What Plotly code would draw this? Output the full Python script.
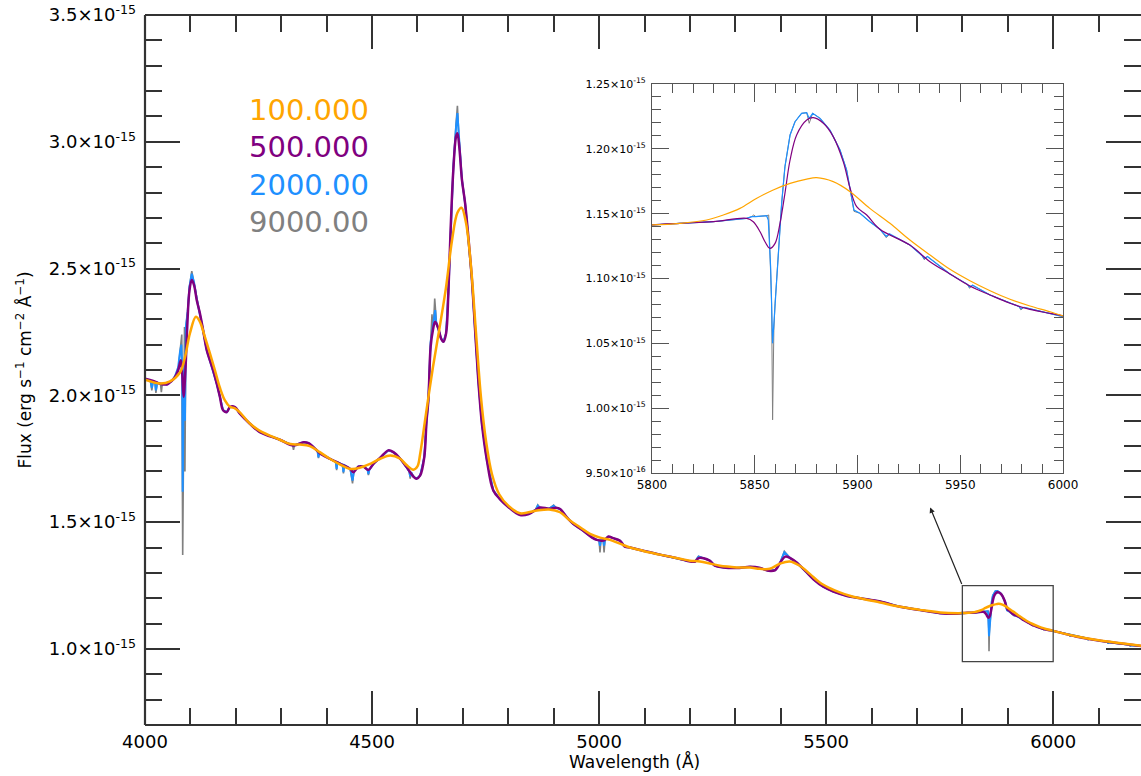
import plotly.graph_objects as go

# ---------------- data (flux in units of 1e-15 erg s^-1 cm^-2 A^-1) ----------------
r100_wave = [4000, 4033, 4055, 4077, 4088, 4099, 4112, 4121, 4132, 4143, 4154, 4165, 4176, 4187,
             4198, 4209, 4231, 4253, 4297, 4320, 4341, 4363, 4385, 4407, 4430, 4452, 4474, 4496,
             4518, 4540, 4562, 4576, 4591, 4600, 4606, 4619, 4634, 4649, 4663, 4676, 4688, 4697,
             4707, 4718, 4729, 4740, 4751, 4764, 4780, 4800, 4826, 4860, 4890, 4914, 4936, 4958,
             4980, 5002, 5024, 5046, 5068, 5090, 5112, 5134, 5156, 5178, 5200, 5222, 5244, 5266,
             5288, 5310, 5332, 5354, 5376, 5398, 5420, 5442, 5464, 5486, 5508, 5530, 5552, 5575,
             5619, 5663, 5707, 5751, 5790, 5800, 5813.6, 5826.6, 5834.7, 5842.8, 5851, 5859,
             5867.2, 5875.3, 5880.1, 5888.2, 5896.4, 5906, 5915.8, 5925.5, 5935.3, 5945, 5954.7,
             5964.5, 5974.2, 5983.9, 5993.7, 6000, 6050, 6100, 6150, 6194]
r100_flux = [2.062, 2.047, 2.055, 2.09, 2.15, 2.245, 2.31, 2.29, 2.23, 2.166, 2.099, 2.03, 1.98, 1.955,
             1.949, 1.933, 1.889, 1.86, 1.825, 1.808, 1.806, 1.80, 1.776, 1.75, 1.727, 1.71, 1.715, 1.73,
             1.75, 1.763, 1.75, 1.725, 1.707, 1.72, 1.77, 1.93, 2.11, 2.27, 2.427, 2.61, 2.72, 2.74,
             2.68, 2.506, 2.245, 1.99, 1.82, 1.69, 1.61, 1.565, 1.535, 1.545, 1.55, 1.539, 1.506, 1.48,
             1.454, 1.439, 1.43, 1.415, 1.40, 1.39, 1.38, 1.372, 1.364, 1.356, 1.348, 1.345, 1.337, 1.328,
             1.324, 1.321, 1.321, 1.316, 1.316, 1.336, 1.345, 1.328, 1.296, 1.262, 1.24, 1.223, 1.21, 1.20,
             1.183, 1.166, 1.154, 1.144, 1.141, 1.1413, 1.1426, 1.1451, 1.149, 1.1541, 1.1619, 1.1683,
             1.1734, 1.1767, 1.1778, 1.1747, 1.167, 1.1541, 1.1426, 1.1297, 1.1181, 1.1071, 1.0983,
             1.0906, 1.084, 1.0788, 1.0744, 1.0711, 1.05, 1.034, 1.022, 1.012]

r500_wave = [4000, 4018, 4033, 4048, 4059, 4066, 4073, 4079, 4082, 4085, 4089, 4093, 4098, 4103, 4108,
             4114, 4121, 4128, 4136, 4143, 4150, 4158, 4165, 4172, 4180, 4187, 4198, 4209, 4231, 4253,
             4297, 4327, 4349, 4360, 4371, 4385, 4407, 4430, 4452, 4459, 4470, 4481, 4492, 4503, 4518,
             4536, 4547, 4562, 4576, 4591, 4598, 4606, 4615, 4620, 4624, 4629, 4634, 4639, 4646, 4652,
             4657, 4663, 4668, 4673, 4679, 4685, 4688, 4692, 4698, 4705, 4712, 4720, 4727, 4734, 4742,
             4753, 4767, 4782, 4800, 4826, 4845, 4860, 4870, 4890, 4905, 4914, 4929, 4943, 4965, 4984,
             4995, 5006, 5013, 5020, 5031, 5046, 5057, 5068, 5090, 5134, 5171, 5193, 5211, 5219, 5230,
             5244, 5255, 5274, 5303, 5333, 5355, 5373, 5388, 5399, 5410, 5421, 5435, 5454, 5472, 5494,
             5516, 5546, 5575, 5619, 5663, 5707, 5751, 5790, 5800, 5813.6, 5829.8, 5846.1, 5849.3,
             5852.6, 5855, 5857.4, 5859.9, 5862.3, 5864.7, 5867.2, 5870.4, 5875.3, 5878.5, 5883.4,
             5888.2, 5893.1, 5896.4, 5899.6, 5904.5, 5910.9, 5925.5, 5935.3, 5945, 5954.7, 5964.5,
             5974.2, 5983.9, 5993.7, 6000, 6050, 6100, 6150, 6194]
r500_flux = [2.066, 2.057, 2.046, 2.043, 2.057, 2.072, 2.099, 2.138, 2.086, 1.994, 2.099, 2.27, 2.415,
             2.455, 2.435, 2.375, 2.323, 2.257, 2.178, 2.138, 2.099, 2.046, 1.994, 1.941, 1.934, 1.954,
             1.954, 1.928, 1.888, 1.855, 1.825, 1.802, 1.815, 1.812, 1.796, 1.772, 1.75, 1.73, 1.71,
             1.697, 1.719, 1.719, 1.706, 1.73, 1.754, 1.783, 1.776, 1.75, 1.717, 1.68, 1.671, 1.684,
             1.756, 1.90, 1.98, 2.191, 2.257, 2.29, 2.264, 2.224, 2.211, 2.244, 2.402, 2.652, 2.889,
             3.021, 3.034, 2.982, 2.85, 2.757, 2.626, 2.455, 2.257, 2.059, 1.888, 1.743, 1.625, 1.59,
             1.56, 1.528, 1.532, 1.548, 1.558, 1.553, 1.557, 1.552, 1.519, 1.493, 1.466, 1.44, 1.43,
             1.427, 1.43, 1.443, 1.437, 1.427, 1.403, 1.40, 1.39, 1.372, 1.358, 1.348, 1.344, 1.358,
             1.358, 1.348, 1.328, 1.321, 1.319, 1.324, 1.319, 1.308, 1.311, 1.341, 1.364, 1.358, 1.341,
             1.308, 1.275, 1.245, 1.226, 1.209, 1.20, 1.187, 1.166, 1.153, 1.141, 1.139, 1.1413, 1.1426,
             1.1438, 1.1464, 1.1438, 1.1361, 1.1284, 1.1233, 1.1271, 1.1426, 1.1657, 1.1914, 1.2107,
             1.2222, 1.224, 1.2197, 1.2094, 1.19, 1.1696, 1.1554, 1.149, 1.138, 1.1258, 1.113, 1.1035,
             1.0942, 1.0873, 1.0809, 1.0762, 1.0731, 1.0711, 1.049, 1.033, 1.021, 1.011]

r2000_wave = [4000, 4012, 4015, 4018, 4022, 4024, 4027, 4033, 4048, 4059, 4066, 4073, 4077, 4080, 4082,
              4083, 4085, 4087, 4088, 4090, 4094, 4098, 4103, 4108, 4114, 4121, 4128, 4136, 4143, 4150,
              4158, 4165, 4172, 4180, 4187, 4198, 4209, 4231, 4253, 4297, 4327, 4349, 4360, 4371, 4380,
              4382, 4384, 4407, 4420, 4422, 4424, 4435, 4437, 4439, 4452, 4457, 4460, 4470, 4481, 4490,
              4492, 4494, 4503, 4518, 4536, 4547, 4562, 4576, 4582, 4584, 4586, 4591, 4598, 4606, 4615,
              4620, 4624, 4629, 4634, 4636, 4639, 4641, 4646, 4652, 4657, 4663, 4668, 4673, 4679, 4685,
              4688, 4691, 4698, 4705, 4712, 4720, 4727, 4734, 4742, 4753, 4767, 4782, 4800, 4826, 4845,
              4860, 4865, 4870, 4890, 4900, 4905, 4914, 4929, 4943, 4965, 4984, 4995, 5000, 5002, 5004,
              5009, 5011, 5013, 5020, 5031, 5046, 5057, 5068, 5090, 5134, 5171, 5193, 5211, 5219, 5230,
              5244, 5255, 5274, 5303, 5333, 5355, 5373, 5388, 5399, 5408, 5421, 5435, 5454, 5472, 5494,
              5516, 5546, 5575, 5619, 5663, 5707, 5751, 5790, 5800, 5813.6, 5829.8, 5846.1, 5848.5,
              5850.5, 5855.8, 5856.6, 5857.8, 5858.7, 5859.9, 5861.5, 5863.1, 5864.7, 5867.2, 5869.6,
              5872.8, 5875.3, 5876.5, 5878.2, 5881.8, 5886.6, 5891.5, 5894.7, 5897.2, 5898.3, 5901.2,
              5906, 5910.9, 5913, 5914, 5915.5, 5925.5, 5931.5, 5932.5, 5934, 5945, 5953.5, 5954.5,
              5956, 5964.5, 5978.5, 5979.5, 5981, 5993.7, 6000, 6036, 6037, 6038, 6076, 6077, 6078,
              6120, 6121, 6122, 6169, 6170, 6171, 6194]
r2000_flux = [2.066, 2.058, 2.03, 2.056, 2.053, 2.02, 2.05, 2.046, 2.043, 2.057, 2.075, 2.11, 2.17, 2.20,
              2.10, 1.62, 2.00, 2.12, 1.90, 2.27, 2.33, 2.43, 2.48, 2.445, 2.38, 2.323, 2.257, 2.178,
              2.138, 2.099, 2.046, 1.994, 1.941, 1.934, 1.954, 1.954, 1.928, 1.888, 1.855, 1.825, 1.802,
              1.815, 1.812, 1.796, 1.778, 1.756, 1.774, 1.75, 1.738, 1.71, 1.736, 1.727, 1.697, 1.725,
              1.71, 1.664, 1.70, 1.719, 1.719, 1.708, 1.69, 1.706, 1.73, 1.754, 1.783, 1.776, 1.75, 1.717,
              1.70, 1.68, 1.697, 1.68, 1.671, 1.684, 1.756, 1.90, 1.98, 2.21, 2.28, 2.30, 2.336, 2.29,
              2.264, 2.224, 2.211, 2.244, 2.402, 2.652, 2.90, 3.06, 3.113, 3.03, 2.85, 2.757, 2.626,
              2.455, 2.257, 2.059, 1.888, 1.743, 1.625, 1.59, 1.56, 1.528, 1.532, 1.548, 1.565, 1.556,
              1.553, 1.565, 1.557, 1.552, 1.519, 1.493, 1.466, 1.44, 1.43, 1.428, 1.407, 1.428, 1.43,
              1.407, 1.43, 1.443, 1.437, 1.427, 1.403, 1.40, 1.39, 1.372, 1.358, 1.348, 1.344, 1.364,
              1.358, 1.348, 1.328, 1.321, 1.319, 1.324, 1.319, 1.308, 1.311, 1.341, 1.381, 1.358, 1.341,
              1.308, 1.275, 1.245, 1.226, 1.209, 1.20, 1.187, 1.166, 1.153, 1.141, 1.139, 1.1413, 1.1426,
              1.1438, 1.1464, 1.1477, 1.1478, 1.1484, 1.1451, 1.1066, 1.05, 1.0809, 1.1194, 1.158,
              1.1862, 1.2107, 1.2209, 1.2274, 1.2279, 1.2235, 1.2274, 1.2235, 1.2145, 1.1991, 1.1837,
              1.1605, 1.1528, 1.1503, 1.1438, 1.138, 1.1345, 1.1325, 1.1345, 1.1258, 1.1175, 1.1155,
              1.117, 1.1035, 1.0955, 1.0935, 1.0948, 1.0873, 1.0785, 1.0768, 1.0778, 1.0731, 1.0711,
              1.057, 1.051, 1.056, 1.041, 1.036, 1.040, 1.027, 1.022, 1.026, 1.016, 1.011, 1.015, 1.011]

r9000_wave = [4000, 4012, 4015, 4018, 4022, 4024, 4027, 4034, 4036, 4038, 4048, 4059, 4066, 4071, 4072,
              4073, 4077, 4081, 4083, 4085, 4087, 4088, 4090, 4094, 4098, 4103, 4108, 4114, 4121, 4128,
              4136, 4143, 4150, 4158, 4165, 4172, 4180, 4187, 4198, 4209, 4231, 4253, 4297, 4325, 4327,
              4329, 4349, 4360, 4371, 4380, 4382, 4384, 4407, 4420, 4422, 4424, 4435, 4437, 4439, 4452,
              4457, 4460, 4470, 4481, 4490, 4492, 4494, 4503, 4518, 4536, 4547, 4562, 4576, 4582, 4584,
              4586, 4591, 4598, 4606, 4615, 4620, 4624, 4629, 4632, 4634, 4636, 4638, 4640, 4642, 4646,
              4652, 4657, 4663, 4668, 4673, 4679, 4685, 4688, 4691, 4698, 4705, 4712, 4720, 4727, 4734,
              4742, 4753, 4767, 4782, 4800, 4826, 4845, 4860, 4865, 4870, 4890, 4900, 4905, 4914, 4929,
              4943, 4965, 4984, 4995, 5000, 5002, 5004, 5009, 5011, 5013, 5020, 5031, 5046, 5057, 5068,
              5090, 5134, 5171, 5193, 5211, 5219, 5230, 5244, 5255, 5274, 5303, 5333, 5355, 5373, 5388,
              5399, 5408, 5421, 5435, 5454, 5472, 5494, 5516, 5546, 5575, 5619, 5663, 5707, 5751, 5790,
              5800, 5813.6, 5829.8, 5846.1, 5848.5, 5849.5, 5850.5, 5855.8, 5856.8, 5858.2, 5858.7,
              5859.3, 5859.9, 5861.5, 5863.1, 5864.7, 5867.2, 5869.6, 5872.8, 5875.3, 5876.5, 5878.2,
              5881.8, 5886.6, 5891.5, 5894.7, 5897.2, 5898.3, 5901.2, 5906, 5910.9, 5913, 5914, 5915.5,
              5925.5, 5931.5, 5932.5, 5934, 5945, 5953.5, 5954.5, 5956, 5964.5, 5978.5, 5979.5, 5981,
              5993.7, 6000, 6036, 6037, 6038, 6076, 6077, 6078, 6120, 6121, 6122, 6169, 6170, 6171, 6194]
r9000_flux = [2.066, 2.058, 2.02, 2.056, 2.053, 2.01, 2.05, 2.046, 2.013, 2.045, 2.043, 2.057, 2.075,
              2.085, 2.105, 2.095, 2.17, 2.24, 1.37, 2.00, 2.27, 1.70, 2.27, 2.33, 2.43, 2.49, 2.445,
              2.38, 2.323, 2.257, 2.178, 2.138, 2.099, 2.046, 1.994, 1.941, 1.934, 1.954, 1.954, 1.928,
              1.888, 1.855, 1.825, 1.804, 1.785, 1.802, 1.815, 1.812, 1.796, 1.778, 1.752, 1.774, 1.75,
              1.738, 1.705, 1.736, 1.727, 1.692, 1.725, 1.71, 1.653, 1.70, 1.719, 1.719, 1.708, 1.685,
              1.706, 1.73, 1.754, 1.783, 1.776, 1.75, 1.717, 1.70, 1.672, 1.697, 1.68, 1.671, 1.684,
              1.756, 1.90, 1.98, 2.21, 2.32, 2.27, 2.30, 2.382, 2.30, 2.28, 2.264, 2.224, 2.211, 2.244,
              2.402, 2.652, 2.90, 3.07, 3.142, 3.03, 2.85, 2.757, 2.626, 2.455, 2.257, 2.059, 1.888,
              1.743, 1.625, 1.59, 1.56, 1.528, 1.532, 1.548, 1.568, 1.556, 1.553, 1.567, 1.557, 1.552,
              1.519, 1.493, 1.466, 1.44, 1.43, 1.428, 1.381, 1.428, 1.43, 1.381, 1.43, 1.443, 1.437,
              1.427, 1.403, 1.40, 1.39, 1.372, 1.358, 1.348, 1.344, 1.366, 1.358, 1.348, 1.328, 1.321,
              1.319, 1.324, 1.319, 1.308, 1.311, 1.341, 1.385, 1.358, 1.341, 1.308, 1.275, 1.245, 1.226,
              1.209, 1.20, 1.187, 1.166, 1.153, 1.141, 1.139, 1.1413, 1.1426, 1.1438, 1.1464, 1.1477,
              1.1490, 1.1478, 1.1484, 1.1490, 1.0809, 0.991, 1.06, 1.0809, 1.1194, 1.158, 1.1862, 1.2107,
              1.2209, 1.2274, 1.2279, 1.2197, 1.2274, 1.2235, 1.2145, 1.1991, 1.1837, 1.1605, 1.1518,
              1.1503, 1.1438, 1.138, 1.134, 1.1315, 1.134, 1.1258, 1.1175, 1.1145, 1.117, 1.1035, 1.0955,
              1.0925, 1.0948, 1.0873, 1.0785, 1.0758, 1.0778, 1.0731, 1.0711, 1.057, 1.049, 1.056, 1.041,
              1.034, 1.040, 1.027, 1.020, 1.026, 1.016, 1.009, 1.015, 1.011]

legend_labels = ["100.000", "500.000", "2000.00", "9000.00"]
colors = {"100": "#FFA500", "500": "#800080", "2000": "#1E90FF", "9000": "#808080"}

main_ytick_vals = [1.0, 1.5, 2.0, 2.5, 3.0, 3.5]
main_ytick_text = ["1.0×10<sup>-15</sup>", "1.5×10<sup>-15</sup>", "2.0×10<sup>-15</sup>",
                   "2.5×10<sup>-15</sup>", "3.0×10<sup>-15</sup>", "3.5×10<sup>-15</sup>"]
inset_ytick_vals = [0.95, 1.00, 1.05, 1.10, 1.15, 1.20, 1.25]
inset_ytick_text = ["9.50×10<sup>-16</sup>", "1.00×10<sup>-15</sup>", "1.05×10<sup>-15</sup>",
                    "1.10×10<sup>-15</sup>", "1.15×10<sup>-15</sup>", "1.20×10<sup>-15</sup>",
                    "1.25×10<sup>-15</sup>"]

FONT = "DejaVu Sans"
AX = "#333333"

fig = go.Figure()

series = [
    (r9000_wave, r9000_flux, colors["9000"], 1.6, 1.0, "linear"),
    (r2000_wave, r2000_flux, colors["2000"], 2.0, 1.2, "linear"),
    (r500_wave, r500_flux, colors["500"], 2.5, 1.2, "spline"),
    (r100_wave, r100_flux, colors["100"], 2.5, 1.2, "spline"),
]
for w, f, c, lw_main, lw_in, shp in series:
    fig.add_trace(go.Scatter(x=w, y=f, mode="lines", line=dict(color=c, width=lw_main, shape=shp),
                             xaxis="x", yaxis="y", showlegend=False, hoverinfo="skip"))
for w, f, c, lw_main, lw_in, shp in series:
    fig.add_trace(go.Scatter(x=w, y=f, mode="lines", line=dict(color=c, width=lw_in, shape=shp),
                             xaxis="x2", yaxis="y2", showlegend=False, hoverinfo="skip"))

fig.update_layout(
    width=1141, height=776, autosize=False, showlegend=False,
    margin=dict(l=145, r=0, t=15, b=51, pad=0, autoexpand=False),
    paper_bgcolor="white", plot_bgcolor="white",
    font=dict(family=FONT, color="black"),
    xaxis=dict(domain=[0, 1], range=[4000, 6193.4], showgrid=False, zeroline=False, automargin=False,
               showline=False, mirror="ticks", ticks="inside", tick0=4000, dtick=500,
               ticklen=34, tickwidth=1.6, tickcolor=AX,
               minor=dict(ticks="inside", tickmode="linear", tick0=4000, dtick=100,
                          ticklen=17, tickwidth=1.6, tickcolor=AX),
               tickfont=dict(size=18, family=FONT), ticklabelstandoff=4),
    yaxis=dict(domain=[0, 1], range=[0.7, 3.5], showgrid=False, zeroline=False, automargin=False,
               showline=False, mirror="ticks", ticks="inside", tickmode="array",
               tickvals=main_ytick_vals, ticktext=main_ytick_text,
               ticklen=35, tickwidth=1.6, tickcolor=AX,
               minor=dict(ticks="inside", tickmode="linear", tick0=0, dtick=0.1,
                          ticklen=17, tickwidth=1.6, tickcolor=AX),
               tickfont=dict(size=18, family=FONT), ticklabelstandoff=8,
               title=dict(text="Flux (erg s<sup>−1</sup> cm<sup>−2</sup> Å<sup>−1</sup>)",
                          font=dict(size=17, family=FONT), standoff=12)),
    xaxis2=dict(domain=[0.509, 0.9217], anchor="y2", range=[5800, 6000], showgrid=False,
                zeroline=False, showline=True, linecolor="#555555", linewidth=1, mirror="ticks",
                automargin=False,
                ticks="inside", tick0=5800, dtick=50, ticklen=18, tickwidth=1.2, tickcolor="#555555",
                minor=dict(ticks="inside", tickmode="linear", tick0=5800, dtick=10, ticklen=9,
                           tickwidth=1.2, tickcolor="#555555"),
                tickfont=dict(size=12, family=FONT), ticklabelstandoff=1),
    yaxis2=dict(domain=[0.3549, 0.9028], anchor="x2", range=[0.95, 1.25], showgrid=False,
                zeroline=False, showline=True, linecolor="#555555", linewidth=1, mirror="ticks",
                automargin=False,
                ticks="inside", tickmode="array", tickvals=inset_ytick_vals, ticktext=inset_ytick_text,
                ticklen=17, tickwidth=1.2, tickcolor="#555555",
                minor=dict(ticks="inside", tickmode="linear", tick0=0.95, dtick=0.01, ticklen=9,
                           tickwidth=1.2, tickcolor="#555555"),
                tickfont=dict(size=11, family=FONT), ticklabelstandoff=3),
)

# x-axis title (placed as in the reference, centred on the full 4000-6200 frame)
fig.add_annotation(x=0.491, y=-0.0521, xref="paper", yref="paper", text="Wavelength (Å)",
                   showarrow=False, xanchor="center", yanchor="middle",
                   font=dict(size=17, family=FONT, color="black"))

# main axis lines (left, bottom, top)
for x0, y0, x1, y1 in [(0, 0, 0, 1), (0, 0, 1, 0), (0, 1, 1, 1)]:
    fig.add_shape(type="line", xref="paper", yref="paper", x0=x0, y0=y0, x1=x1, y1=y1,
                  line=dict(color=AX, width=2.2), layer="above")

# zoom box on the main plot
fig.add_shape(type="rect", xref="x", yref="y", x0=5800, x1=6000, y0=0.95, y1=1.25,
              line=dict(color="#444444", width=1.3), layer="above")

# arrow from box to inset
fig.add_annotation(x=5729, y=1.558, ax=5800, ay=1.25, xref="x", yref="y", axref="x", ayref="y",
                   text="", showarrow=True, arrowhead=2, arrowsize=0.9, arrowwidth=1.2,
                   arrowcolor="#222222")

# legend labels
legend_y = [0.866, 0.814, 0.7606, 0.7085]
legend_cols = [colors["100"], colors["500"], colors["2000"], colors["9000"]]
for lab, yy, cc in zip(legend_labels, legend_y, legend_cols):
    fig.add_annotation(x=0.1024, y=yy, xref="paper", yref="paper", text=lab, showarrow=False,
                       xanchor="left", yanchor="middle", font=dict(size=29, color=cc, family=FONT))

fig.write_html("out.html", config={"responsive": False})
